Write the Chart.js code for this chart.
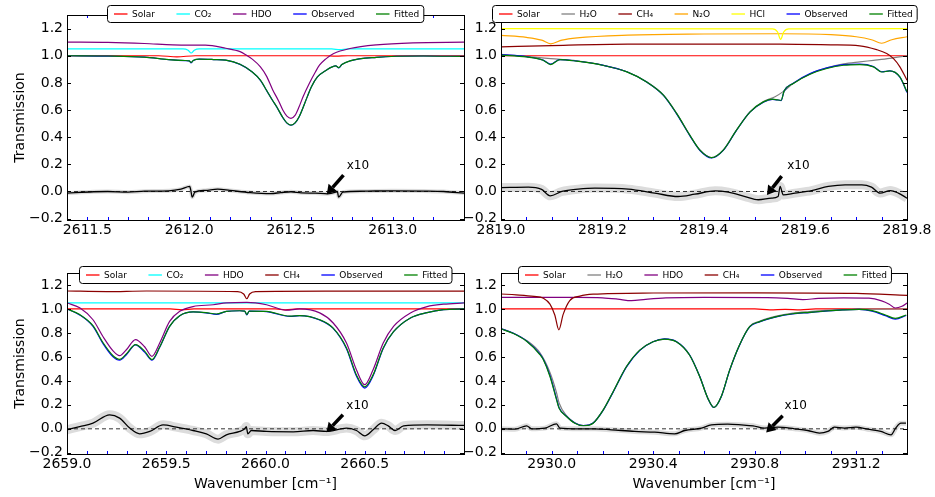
<!DOCTYPE html>
<html>
<head>
<meta charset="utf-8">
<script src="https://cdn.jsdelivr.net/npm/chart.js@4/dist/chart.umd.min.js"></script>
<style>
  html, body { margin: 0; padding: 0; background: #fff; }
  #wrap { position: relative; width: 935px; height: 497px; }
  #wrap canvas { position: absolute; left: 0; top: 0; }
</style>
</head>
<body>
<div id="wrap">
  <canvas id="p1" width="935" height="497"></canvas>
  <canvas id="p2" width="935" height="497"></canvas>
  <canvas id="p3" width="935" height="497"></canvas>
  <canvas id="p4" width="935" height="497"></canvas>
</div>
<script>
// ---- shared axis values
const yRange = [-0.21, 1.3]
const yTicks = [-0.2, 0, 0.2, 0.4, 0.6, 0.8, 1.0, 1.2]

// ---- panel 1 : 2611.4 - 2613.35
const p1Range = [2611.4, 2613.35]
const p1Ticks = [2611.5, 2612.0, 2612.5, 2613.0]
const p1SolarX = [2611.40, 2611.85, 2611.94, 2612.03, 2612.66, 2612.72, 2612.78, 2613.35]
const p1SolarY = [1.000, 1.000, 0.992, 1.000, 1.000, 0.997, 1.000, 1.000]
const p1Co2X = [2611.40, 2611.97, 2611.995, 2612.01, 2612.025, 2612.05, 2612.70, 2612.74, 2612.78, 2613.35]
const p1Co2Y = [1.050, 1.050, 1.040, 1.020, 1.040, 1.050, 1.050, 1.045, 1.050, 1.050]
const p1HdoX = [2611.40, 2611.60, 2611.78, 2611.92, 2612.00, 2612.08, 2612.18, 2612.25, 2612.28, 2612.31, 2612.35, 2612.38, 2612.41, 2612.44, 2612.46, 2612.48, 2612.50, 2612.52, 2612.54, 2612.56, 2612.59, 2612.62, 2612.64, 2612.67, 2612.71, 2612.79, 2612.92, 2613.10, 2613.35]
const p1HdoY = [1.100, 1.098, 1.090, 1.080, 1.078, 1.078, 1.055, 1.030, 1.005, 0.975, 0.918, 0.850, 0.750, 0.665, 0.600, 0.555, 0.538, 0.560, 0.624, 0.700, 0.796, 0.880, 0.930, 0.975, 1.016, 1.053, 1.080, 1.095, 1.100]
const p1FitX = [2611.40, 2611.60, 2611.78, 2611.90, 2611.98, 2612.00, 2612.01, 2612.02, 2612.05, 2612.12, 2612.18, 2612.25, 2612.31, 2612.35, 2612.38, 2612.41, 2612.43, 2612.46, 2612.48, 2612.50, 2612.52, 2612.54, 2612.58, 2612.60, 2612.63, 2612.67, 2612.72, 2612.735, 2612.75, 2612.79, 2612.92, 2613.15, 2613.35]
const p1ObsY = [1.000, 0.997, 0.989, 0.971, 0.964, 0.962, 0.948, 0.964, 0.975, 0.972, 0.967, 0.936, 0.880, 0.819, 0.745, 0.670, 0.623, 0.544, 0.504, 0.488, 0.504, 0.549, 0.697, 0.770, 0.844, 0.890, 0.925, 0.910, 0.935, 0.962, 0.988, 0.998, 0.995]
const p1FitY = [1.000, 0.998, 0.990, 0.972, 0.965, 0.962, 0.950, 0.965, 0.975, 0.972, 0.967, 0.937, 0.880, 0.820, 0.746, 0.670, 0.624, 0.545, 0.505, 0.489, 0.505, 0.550, 0.697, 0.770, 0.844, 0.890, 0.925, 0.912, 0.935, 0.962, 0.988, 0.998, 0.995]
const p1ResX = [2611.40, 2611.53, 2611.60, 2611.70, 2611.78, 2611.90, 2611.96, 2612.003, 2612.008, 2612.015, 2612.028, 2612.08, 2612.14, 2612.20, 2612.30, 2612.40, 2612.45, 2612.50, 2612.55, 2612.62, 2612.68, 2612.72, 2612.728, 2612.734, 2612.755, 2612.85, 2613.00, 2613.15, 2613.25, 2613.35]
const p1ResY = [-0.012, -0.002, 0.000, -0.005, 0.002, 0.005, 0.017, 0.037, 0.010, -0.042, -0.005, 0.008, 0.017, 0.008, -0.008, -0.015, -0.008, -0.002, -0.010, -0.012, -0.017, -0.005, 0.000, -0.042, -0.005, 0.002, 0.005, 0.003, 0.000, -0.012]
const p1Arrow = [[2612.758, 0.121], [2612.676, -0.020], [2612.774, 0.188]]

// ---- panel 2 : 2819.0 - 2819.8
const p2Range = [2819.0, 2819.8]
const p2Ticks = [2819.0, 2819.2, 2819.4, 2819.6, 2819.8]
const p2SolarX = [2819.0, 2819.8]
const p2SolarY = [1.000, 1.000]
const p2H2oX = [2819.000, 2819.050, 2819.098, 2819.149, 2819.200, 2819.248, 2819.287, 2819.320, 2819.346, 2819.372, 2819.392, 2819.415, 2819.438, 2819.464, 2819.491, 2819.517, 2819.540, 2819.558, 2819.576, 2819.609, 2819.642, 2819.675, 2819.707, 2819.734, 2819.766, 2819.800]
const p2H2oY = [1.010, 0.995, 0.978, 0.962, 0.931, 0.882, 0.808, 0.711, 0.576, 0.416, 0.306, 0.250, 0.306, 0.453, 0.588, 0.662, 0.698, 0.741, 0.797, 0.866, 0.910, 0.940, 0.955, 0.966, 0.980, 1.000]
const p2Ch4X = [2819.00, 2819.10, 2819.25, 2819.55, 2819.65, 2819.707, 2819.74, 2819.76, 2819.773, 2819.786, 2819.80]
const p2Ch4Y = [1.065, 1.075, 1.085, 1.085, 1.080, 1.073, 1.045, 1.016, 0.980, 0.918, 0.820]
const p2N2oX = [2819.00, 2819.05, 2819.08, 2819.098, 2819.12, 2819.15, 2819.25, 2819.40, 2819.55, 2819.65, 2819.70, 2819.73, 2819.75, 2819.77, 2819.80]
const p2N2oY = [1.150, 1.135, 1.115, 1.088, 1.115, 1.132, 1.152, 1.160, 1.162, 1.155, 1.140, 1.118, 1.092, 1.118, 1.140]
const p2HclX = [2819.00, 2819.535, 2819.545, 2819.551, 2819.557, 2819.567, 2819.80]
const p2HclY = [1.200, 1.198, 1.175, 1.120, 1.175, 1.198, 1.200]
const p2FitX = [2819.000, 2819.050, 2819.083, 2819.098, 2819.116, 2819.149, 2819.200, 2819.248, 2819.287, 2819.320, 2819.346, 2819.372, 2819.392, 2819.415, 2819.438, 2819.464, 2819.491, 2819.517, 2819.535, 2819.545, 2819.552, 2819.558, 2819.576, 2819.609, 2819.642, 2819.675, 2819.707, 2819.734, 2819.750, 2819.766, 2819.786, 2819.800]
const p2ObsY = [1.008, 0.993, 0.968, 0.938, 0.972, 0.961, 0.931, 0.882, 0.806, 0.708, 0.572, 0.412, 0.302, 0.247, 0.303, 0.450, 0.586, 0.658, 0.678, 0.674, 0.670, 0.741, 0.798, 0.868, 0.910, 0.934, 0.938, 0.920, 0.882, 0.888, 0.842, 0.730]
const p2FitY = [1.005, 0.991, 0.967, 0.935, 0.972, 0.960, 0.930, 0.881, 0.807, 0.710, 0.575, 0.415, 0.305, 0.249, 0.305, 0.452, 0.587, 0.660, 0.680, 0.675, 0.672, 0.741, 0.796, 0.864, 0.906, 0.930, 0.935, 0.918, 0.880, 0.888, 0.844, 0.734]
const p2ResX = [2819.000, 2819.054, 2819.080, 2819.097, 2819.120, 2819.152, 2819.185, 2819.251, 2819.303, 2819.349, 2819.382, 2819.422, 2819.448, 2819.481, 2819.507, 2819.533, 2819.546, 2819.550, 2819.556, 2819.579, 2819.612, 2819.645, 2819.678, 2819.711, 2819.730, 2819.747, 2819.767, 2819.783, 2819.800]
const p2ResY = [0.029, 0.032, 0.015, -0.032, 0.000, 0.017, 0.025, 0.017, -0.012, -0.037, -0.020, 0.005, -0.005, -0.037, -0.061, -0.049, -0.037, 0.037, -0.025, -0.012, 0.007, 0.037, 0.049, 0.049, 0.032, -0.012, 0.007, -0.012, -0.049]
const p2Arrow = [[2819.553, 0.113], [2819.524, -0.026], [2819.564, 0.188]]

// ---- panel 3 : 2659.0 - 2661.0
const p3Range = [2659.0, 2661.0]
const p3Ticks = [2659.0, 2659.5, 2660.0, 2660.5]
const p3SolarX = [2659.00, 2659.52, 2659.58, 2659.64, 2660.05, 2660.10, 2660.16, 2661.00]
const p3SolarY = [1.000, 1.000, 0.992, 1.000, 1.000, 0.992, 1.000, 1.000]
const p3Co2X = [2659.0, 2661.0]
const p3Co2Y = [1.050, 1.050]
const p3HdoX = [2659.000, 2659.064, 2659.131, 2659.181, 2659.232, 2659.265, 2659.299, 2659.345, 2659.391, 2659.428, 2659.467, 2659.517, 2659.568, 2659.635, 2659.736, 2659.803, 2659.906, 2660.005, 2660.105, 2660.172, 2660.273, 2660.341, 2660.408, 2660.458, 2660.500, 2660.542, 2660.593, 2660.645, 2660.730, 2660.814, 2660.897, 2661.000]
const p3HdoY = [1.050, 1.010, 0.910, 0.770, 0.650, 0.610, 0.660, 0.745, 0.685, 0.605, 0.716, 0.896, 0.980, 1.020, 1.035, 1.050, 1.055, 1.035, 0.990, 1.000, 0.967, 0.883, 0.716, 0.493, 0.368, 0.493, 0.716, 0.855, 0.967, 1.020, 1.040, 1.050]
const p3Ch4X = [2659.00, 2659.20, 2659.40, 2659.86, 2659.89, 2659.906, 2659.92, 2659.95, 2660.30, 2661.00]
const p3Ch4Y = [1.150, 1.145, 1.150, 1.145, 1.125, 1.085, 1.125, 1.145, 1.148, 1.148]
const p3FitX = [2659.000, 2659.064, 2659.131, 2659.181, 2659.232, 2659.265, 2659.299, 2659.345, 2659.391, 2659.428, 2659.467, 2659.517, 2659.568, 2659.635, 2659.700, 2659.753, 2659.803, 2659.870, 2659.895, 2659.906, 2659.918, 2660.005, 2660.122, 2660.172, 2660.273, 2660.341, 2660.408, 2660.458, 2660.500, 2660.542, 2660.593, 2660.645, 2660.730, 2660.814, 2660.897, 2661.000]
const p3ObsY = [1.000, 0.950, 0.855, 0.712, 0.600, 0.572, 0.618, 0.700, 0.640, 0.572, 0.680, 0.855, 0.944, 0.975, 0.968, 0.955, 0.980, 0.985, 0.982, 0.950, 0.982, 0.978, 0.938, 0.944, 0.908, 0.838, 0.668, 0.440, 0.340, 0.442, 0.670, 0.810, 0.925, 0.970, 0.994, 1.000]
const p3FitY = [1.000, 0.953, 0.860, 0.720, 0.610, 0.580, 0.625, 0.703, 0.648, 0.578, 0.683, 0.855, 0.944, 0.975, 0.970, 0.958, 0.980, 0.985, 0.982, 0.953, 0.982, 0.980, 0.940, 0.945, 0.910, 0.840, 0.675, 0.450, 0.350, 0.450, 0.675, 0.810, 0.925, 0.970, 0.994, 1.000]
const p3ResX = [2659.000, 2659.064, 2659.131, 2659.215, 2659.265, 2659.316, 2659.366, 2659.417, 2659.484, 2659.551, 2659.635, 2659.702, 2659.761, 2659.803, 2659.870, 2659.895, 2659.903, 2659.911, 2659.929, 2660.005, 2660.140, 2660.240, 2660.307, 2660.408, 2660.458, 2660.500, 2660.542, 2660.585, 2660.618, 2660.653, 2660.696, 2660.814, 2661.000]
const p3ResY = [-0.008, 0.019, 0.047, 0.117, 0.089, 0.006, -0.042, -0.022, 0.033, 0.014, -0.014, -0.042, -0.086, -0.050, -0.022, 0.000, 0.019, -0.042, -0.014, -0.022, -0.025, -0.014, -0.022, 0.006, -0.014, -0.058, -0.008, 0.047, 0.025, -0.014, 0.025, 0.033, 0.028]
const p3Arrow = [[2660.390, 0.117], [2660.307, -0.028], [2660.407, 0.188]]

// ---- panel 4 : 2929.8 - 2931.4
const p4Range = [2929.8, 2931.4]
const p4Ticks = [2930.0, 2930.4, 2930.8, 2931.2]
const p4SolarX = [2929.80, 2930.80, 2930.86, 2930.92, 2930.98, 2931.04, 2931.40]
const p4SolarY = [1.000, 1.000, 0.992, 0.997, 0.993, 1.000, 1.000]
const p4H2oX = [2929.800, 2929.849, 2929.901, 2929.953, 2929.993, 2930.019, 2930.029, 2930.058, 2930.091, 2930.124, 2930.163, 2930.203, 2930.242, 2930.294, 2930.347, 2930.399, 2930.445, 2930.491, 2930.543, 2930.583, 2930.615, 2930.639, 2930.668, 2930.701, 2930.740, 2930.780, 2930.819, 2930.885, 2930.950, 2931.016, 2931.080, 2931.145, 2931.211, 2931.300, 2931.397]
const p4H2oY = [0.836, 0.798, 0.737, 0.635, 0.470, 0.300, 0.215, 0.110, 0.050, 0.027, 0.048, 0.158, 0.310, 0.518, 0.657, 0.727, 0.749, 0.727, 0.616, 0.437, 0.255, 0.178, 0.270, 0.490, 0.700, 0.855, 0.897, 0.940, 0.965, 0.978, 0.988, 0.995, 0.998, 0.999, 1.000]
const p4HdoX = [2929.80, 2930.10, 2930.20, 2930.26, 2930.314, 2930.37, 2930.45, 2930.60, 2930.85, 2930.93, 2930.99, 2931.05, 2931.15, 2931.25, 2931.30, 2931.33, 2931.354, 2931.38, 2931.40]
const p4HdoY = [1.097, 1.097, 1.093, 1.082, 1.069, 1.080, 1.092, 1.097, 1.095, 1.088, 1.078, 1.088, 1.093, 1.090, 1.068, 1.040, 1.008, 1.022, 1.050]
const p4Ch4X = [2929.80, 2929.86, 2929.93, 2929.967, 2929.993, 2930.012, 2930.028, 2930.045, 2930.071, 2930.111, 2930.163, 2930.40, 2930.80, 2931.20, 2931.40]
const p4Ch4Y = [1.125, 1.118, 1.105, 1.090, 1.040, 0.950, 0.826, 0.955, 1.070, 1.107, 1.123, 1.133, 1.135, 1.130, 1.114]
const p4FitX = [2929.800, 2929.849, 2929.901, 2929.953, 2929.967, 2929.993, 2930.019, 2930.029, 2930.058, 2930.091, 2930.124, 2930.163, 2930.203, 2930.242, 2930.294, 2930.347, 2930.399, 2930.445, 2930.491, 2930.543, 2930.583, 2930.615, 2930.639, 2930.668, 2930.701, 2930.740, 2930.780, 2930.819, 2930.885, 2930.950, 2931.016, 2931.080, 2931.145, 2931.211, 2931.263, 2931.315, 2931.354, 2931.397]
const p4ObsY = [0.835, 0.797, 0.733, 0.625, 0.580, 0.445, 0.250, 0.176, 0.105, 0.048, 0.026, 0.048, 0.156, 0.306, 0.515, 0.655, 0.727, 0.751, 0.729, 0.618, 0.438, 0.256, 0.178, 0.268, 0.488, 0.698, 0.850, 0.892, 0.934, 0.958, 0.970, 0.982, 0.992, 0.996, 0.982, 0.944, 0.915, 0.945]
const p4FitY = [0.833, 0.795, 0.730, 0.620, 0.576, 0.437, 0.242, 0.172, 0.103, 0.047, 0.025, 0.047, 0.158, 0.310, 0.518, 0.657, 0.727, 0.749, 0.727, 0.616, 0.437, 0.255, 0.178, 0.270, 0.490, 0.700, 0.853, 0.894, 0.936, 0.960, 0.972, 0.983, 0.992, 0.997, 0.986, 0.950, 0.922, 0.950]
const p4ResX = [2929.800, 2929.855, 2929.901, 2929.921, 2929.973, 2930.019, 2930.032, 2930.104, 2930.170, 2930.235, 2930.327, 2930.406, 2930.484, 2930.524, 2930.590, 2930.629, 2930.694, 2930.747, 2930.793, 2930.839, 2930.891, 2930.957, 2931.009, 2931.055, 2931.088, 2931.114, 2931.153, 2931.199, 2931.245, 2931.297, 2931.337, 2931.356, 2931.376, 2931.396]
const p4ResY = [0.000, -0.003, 0.025, 0.000, 0.006, 0.042, 0.006, 0.000, 0.000, -0.008, -0.022, -0.028, -0.042, -0.014, 0.006, 0.033, 0.039, 0.033, 0.025, 0.006, 0.014, 0.000, -0.014, -0.036, -0.022, 0.014, 0.006, 0.014, -0.003, -0.022, -0.050, 0.008, 0.047, 0.047]
const p4Arrow = [[2930.910, 0.109], [2930.845, -0.030], [2930.917, 0.188]]

// ---- styling
const FONT = '"DejaVu Sans", sans-serif'
const C = { solar: '#ff0000', co2: '#00ffff', hdo: '#800080', h2o: '#808080', ch4: '#8b0000', n2o: '#ffa500', hcl: '#ffff00', obs: '#0000ff', fit: '#008000' }
const XH = 40
Chart.defaults.font.family = FONT

const pts = (xs, ys) => xs.map((x, i) => ({ x, y: ys[i] }))

const decor = p => ({
  id: 'decor',
  afterDatasetsDraw(chart) {
    const { ctx, chartArea: a, scales: { x, y } } = chart
    ctx.save()
    // blue minor ticks, top and bottom
    ctx.strokeStyle = '#0000ff'
    ctx.lineWidth = 1
    const n = Math.round((p.range[1] - p.range[0]) / p.minor)
    for (let i = 1; i < n; i++) {
      const px = Math.round(x.getPixelForValue(p.range[0] + i * p.minor)) + 0.5
      ctx.beginPath()
      ctx.moveTo(px, a.bottom); ctx.lineTo(px, a.bottom - 3)
      ctx.moveTo(px, a.top); ctx.lineTo(px, a.top + 3)
      ctx.stroke()
    }
    // y ticks inside
    ctx.strokeStyle = '#000'
    yTicks.forEach(v => {
      const py = Math.round(y.getPixelForValue(v)) + 0.5
      ctx.beginPath()
      ctx.moveTo(a.left, py); ctx.lineTo(a.left + 4, py)
      ctx.moveTo(a.right, py); ctx.lineTo(a.right - 4, py)
      ctx.stroke()
    })
    // frame
    ctx.strokeRect(Math.round(a.left) + 0.5, Math.round(a.top) + 0.5, Math.round(a.right - a.left), Math.round(a.bottom - a.top))
    // arrow + label
    const [tail, tip, lab] = p.arrow
    const tx = x.getPixelForValue(tail[0]), ty = y.getPixelForValue(tail[1])
    const hx = x.getPixelForValue(tip[0]), hy = y.getPixelForValue(tip[1])
    const ang = Math.atan2(hy - ty, hx - tx)
    const hl = 9, hw = 5.5
    const bx = hx - hl * Math.cos(ang), by = hy - hl * Math.sin(ang)
    ctx.fillStyle = '#000'
    ctx.lineWidth = 3.5
    ctx.beginPath(); ctx.moveTo(tx, ty); ctx.lineTo(bx, by); ctx.stroke()
    ctx.beginPath()
    ctx.moveTo(hx, hy)
    ctx.lineTo(bx + hw * Math.sin(ang), by - hw * Math.cos(ang))
    ctx.lineTo(bx - hw * Math.sin(ang), by + hw * Math.cos(ang))
    ctx.closePath(); ctx.fill()
    ctx.font = '12px ' + FONT
    ctx.textAlign = 'left'; ctx.textBaseline = 'middle'
    ctx.fillText('x10', x.getPixelForValue(lab[0]), y.getPixelForValue(lab[1]))
    ctx.restore()
  },
  afterDraw(chart) {
    const { ctx, chartArea: a } = chart
    const items = p.series
    ctx.save()
    ctx.font = '9px ' + FONT
    const L = 13.5, G = 4.5, CS = 21.5, PL = 6.5, PR = 4.5, H = 17, R = 3
    const ws = items.map(s => ctx.measureText(s.label).width)
    const total = PL + PR + ws.reduce((t, w) => t + L + G + w, 0) + CS * (items.length - 1)
    const x0 = Math.round((a.left + a.right) / 2 - total / 2) + 0.5
    const y0 = Math.round(a.top - p.drop) + 0.5
    ctx.beginPath()
    ctx.moveTo(x0 + R, y0)
    ctx.lineTo(x0 + total - R, y0); ctx.arcTo(x0 + total, y0, x0 + total, y0 + R, R)
    ctx.lineTo(x0 + total, y0 + H - R); ctx.arcTo(x0 + total, y0 + H, x0 + total - R, y0 + H, R)
    ctx.lineTo(x0 + R, y0 + H); ctx.arcTo(x0, y0 + H, x0, y0 + H - R, R)
    ctx.lineTo(x0, y0 + R); ctx.arcTo(x0, y0, x0 + R, y0, R)
    ctx.closePath()
    ctx.fillStyle = '#fff'; ctx.fill()
    ctx.strokeStyle = '#000'; ctx.lineWidth = 1; ctx.stroke()
    let cx = x0 + PL
    const cy = y0 + H / 2
    items.forEach((s, i) => {
      ctx.strokeStyle = s.color; ctx.lineWidth = 1.3
      ctx.beginPath(); ctx.moveTo(cx, cy); ctx.lineTo(cx + L, cy); ctx.stroke()
      ctx.fillStyle = '#000'; ctx.textAlign = 'left'; ctx.textBaseline = 'middle'
      ctx.fillText(s.label, cx + L + G, cy + 0.5)
      cx += L + G + ws[i] + CS
    })
    ctx.restore()
  }
})

function panel(id, p) {
  const ds = p.series.map(s => ({ data: pts(s.x, s.y), borderColor: s.color, borderWidth: 1.2 }))
  ds.push({ data: pts(p.res[0], p.res[1]), borderColor: '#dcdcdc', borderWidth: p.band })
  ds.push({ data: pts(p.range, [0, 0]), borderColor: '#333', borderWidth: 1, borderDash: [4, 3], cubicInterpolationMode: 'default' })
  ds.push({ data: pts(p.res[0], p.res[1]), borderColor: '#000', borderWidth: 1.3 })
  ds.forEach((d, i) => { d.order = -i; d.pointRadius = 0; if (!d.cubicInterpolationMode) d.cubicInterpolationMode = 'monotone' })
  const a = p.area
  new Chart(document.getElementById(id), {
    type: 'line',
    data: { datasets: ds },
    options: {
      responsive: false,
      animation: false,
      events: [],
      layout: { padding: { left: 0, top: a[1], right: 935 - a[2], bottom: 497 - a[3] - XH } },
      plugins: { legend: { display: false }, tooltip: { enabled: false } },
      scales: {
        x: {
          type: 'linear', min: p.range[0], max: p.range[1],
          afterBuildTicks: s => { s.ticks = p.ticks.map(v => ({ value: v })) },
          afterFit: s => { s.height = XH; s.paddingLeft = 0; s.paddingRight = 0 },
          ticks: { color: '#000', font: { size: 14 }, padding: 2, maxRotation: 0, minRotation: 0, autoSkip: false, callback: v => v.toFixed(1) },
          grid: { display: false, drawTicks: false },
          border: { display: false },
          title: { display: p.xTitle, text: 'Wavenumber [cm⁻¹]', color: '#000', font: { size: 14 }, padding: { top: 0, bottom: 1 } }
        },
        y: {
          min: yRange[0], max: yRange[1],
          afterBuildTicks: s => { s.ticks = yTicks.map(v => ({ value: v })) },
          afterFit: s => { s.width = a[0]; s.paddingTop = 0; s.paddingBottom = 0 },
          ticks: { color: '#000', font: { size: 14 }, padding: 4, callback: v => (v < -1e-9 ? '−' : '') + Math.abs(v).toFixed(1) },
          grid: { display: false, drawTicks: false },
          border: { display: false },
          title: { display: p.yTitle, text: 'Transmission', color: '#000', font: { size: 14 }, padding: { top: 12, bottom: 0 } }
        }
      }
    },
    plugins: [decor(p)]
  })
}

panel('p1', {
  area: [67, 15, 464, 220], range: p1Range, ticks: p1Ticks, minor: 0.1, drop: 10, band: 4,
  xTitle: false, yTitle: true, arrow: p1Arrow, res: [p1ResX, p1ResY],
  series: [
    { label: 'Solar', color: C.solar, x: p1SolarX, y: p1SolarY },
    { label: 'CO₂', color: C.co2, x: p1Co2X, y: p1Co2Y },
    { label: 'HDO', color: C.hdo, x: p1HdoX, y: p1HdoY },
    { label: 'Observed', color: C.obs, x: p1FitX, y: p1ObsY },
    { label: 'Fitted', color: C.fit, x: p1FitX, y: p1FitY }
  ]
})

panel('p2', {
  area: [501, 15, 907, 220], range: p2Range, ticks: p2Ticks, minor: 0.05, drop: 10, band: 9,
  xTitle: false, yTitle: false, arrow: p2Arrow, res: [p2ResX, p2ResY],
  series: [
    { label: 'Solar', color: C.solar, x: p2SolarX, y: p2SolarY },
    { label: 'H₂O', color: C.h2o, x: p2H2oX, y: p2H2oY },
    { label: 'CH₄', color: C.ch4, x: p2Ch4X, y: p2Ch4Y },
    { label: 'N₂O', color: C.n2o, x: p2N2oX, y: p2N2oY },
    { label: 'HCl', color: C.hcl, x: p2HclX, y: p2HclY },
    { label: 'Observed', color: C.obs, x: p2FitX, y: p2ObsY },
    { label: 'Fitted', color: C.fit, x: p2FitX, y: p2FitY }
  ]
})

panel('p3', {
  area: [67, 273, 464, 454], range: p3Range, ticks: p3Ticks, minor: 0.1, drop: 7, band: 9,
  xTitle: true, yTitle: true, arrow: p3Arrow, res: [p3ResX, p3ResY],
  series: [
    { label: 'Solar', color: C.solar, x: p3SolarX, y: p3SolarY },
    { label: 'CO₂', color: C.co2, x: p3Co2X, y: p3Co2Y },
    { label: 'HDO', color: C.hdo, x: p3HdoX, y: p3HdoY },
    { label: 'CH₄', color: C.ch4, x: p3Ch4X, y: p3Ch4Y },
    { label: 'Observed', color: C.obs, x: p3FitX, y: p3ObsY },
    { label: 'Fitted', color: C.fit, x: p3FitX, y: p3FitY }
  ]
})

panel('p4', {
  area: [501, 273, 907, 454], range: p4Range, ticks: p4Ticks, minor: 0.1, drop: 7, band: 5,
  xTitle: true, yTitle: false, arrow: p4Arrow, res: [p4ResX, p4ResY],
  series: [
    { label: 'Solar', color: C.solar, x: p4SolarX, y: p4SolarY },
    { label: 'H₂O', color: C.h2o, x: p4H2oX, y: p4H2oY },
    { label: 'HDO', color: C.hdo, x: p4HdoX, y: p4HdoY },
    { label: 'CH₄', color: C.ch4, x: p4Ch4X, y: p4Ch4Y },
    { label: 'Observed', color: C.obs, x: p4FitX, y: p4ObsY },
    { label: 'Fitted', color: C.fit, x: p4FitX, y: p4FitY }
  ]
})
</script>
</body>
</html>
